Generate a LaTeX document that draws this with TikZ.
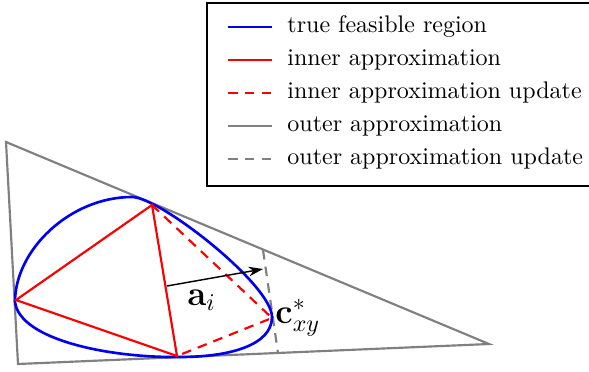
\documentclass[tikz,border=0pt]{standalone}
\usepackage{amsmath, amssymb}
\usepackage{tikz}
\usetikzlibrary{arrows.meta, positioning, calc}
\usepackage{xcolor}
\definecolor{feas}{RGB}{0,0,240}
\definecolor{inner}{RGB}{250,0,0}
\definecolor{outer}{RGB}{128,128,128}

\begin{document}
\begin{tikzpicture}[x=0.4167pt, y=-0.4167pt,
    truereg/.style={draw=feas, line width=1.1pt},
    innerap/.style={draw=inner, line width=0.9pt},
    innerup/.style={innerap, dash pattern=on 4pt off 3pt},
    outerap/.style={draw=outer, line width=0.9pt},
    outerup/.style={outerap, dash pattern=on 4pt off 3pt},
    entry/.style={anchor=base west, inner sep=0pt, font=\normalsize}]
  \clip (0,0) rectangle (589,371);
  % outer triangle
  \coordinate (o1) at (6,142);
  \coordinate (o2) at (18,364);
  \coordinate (o3) at (489,344);
  \draw[outerap, line join=miter] (o1) -- (o2) -- (o3) -- cycle;
  % outer update (cut)
  \coordinate (u1) at (263,250);
  \coordinate (u2) at (278,353);
  \draw[outerup] (u1) -- (u2);
  % true feasible region
  \coordinate (fl) at (15,302);
  \coordinate (ft) at (132,197);
  \coordinate (fr) at (272,317);
  \coordinate (fb) at (180,357);
  \draw[truereg] (fl) .. controls (15,250) and (70,197) .. (ft)
    .. controls (160,197) and (272,285) .. (fr)
    .. controls (272,345) and (230,357) .. (fb)
    .. controls (110,358) and (20,340) .. (fl) -- cycle;
  % inner approximation
  \coordinate (p1) at (16,300);
  \coordinate (p2) at (152,205);
  \coordinate (p3) at (177,356);
  \coordinate (c) at (272,318);
  \draw[innerap] (p1) -- (p2) -- (p3) -- cycle;
  \draw[innerup] (p2) -- (c) -- (p3);
  % normal direction
  \coordinate (s) at (167,286);
  \coordinate (t) at (263,269);
  \draw[-{Stealth[length=6pt, width=4pt]}, line width=0.6pt] (s) -- (t);
  \node[font=\Large, anchor=base west, inner sep=0pt] (ai) at (187,305) {$\mathbf{a}_i$};
  \node[font=\Large, anchor=base west, inner sep=0pt] (cxy) at (275,323) {$\mathbf{c}^*_{xy}$};
  % legend
  \draw[line width=0.8pt] (207,3) rectangle (600,186);
  \foreach \i/\sty/\lab in {0/truereg/true feasible region,
      1/innerap/inner approximation, 2/innerup/inner approximation update,
      3/outerap/outer approximation, 4/outerup/outer approximation update} {
    \pgfmathsetmacro{\yy}{27 + \i*33}
    \coordinate (l\i a) at (228,\yy);
    \coordinate (l\i b) at (272,\yy);
    \draw[\sty] (l\i a) -- (l\i b);
    \node[entry] (t\i) at (287,\yy+5.5) {\lab};
  }
\end{tikzpicture}
\end{document}
